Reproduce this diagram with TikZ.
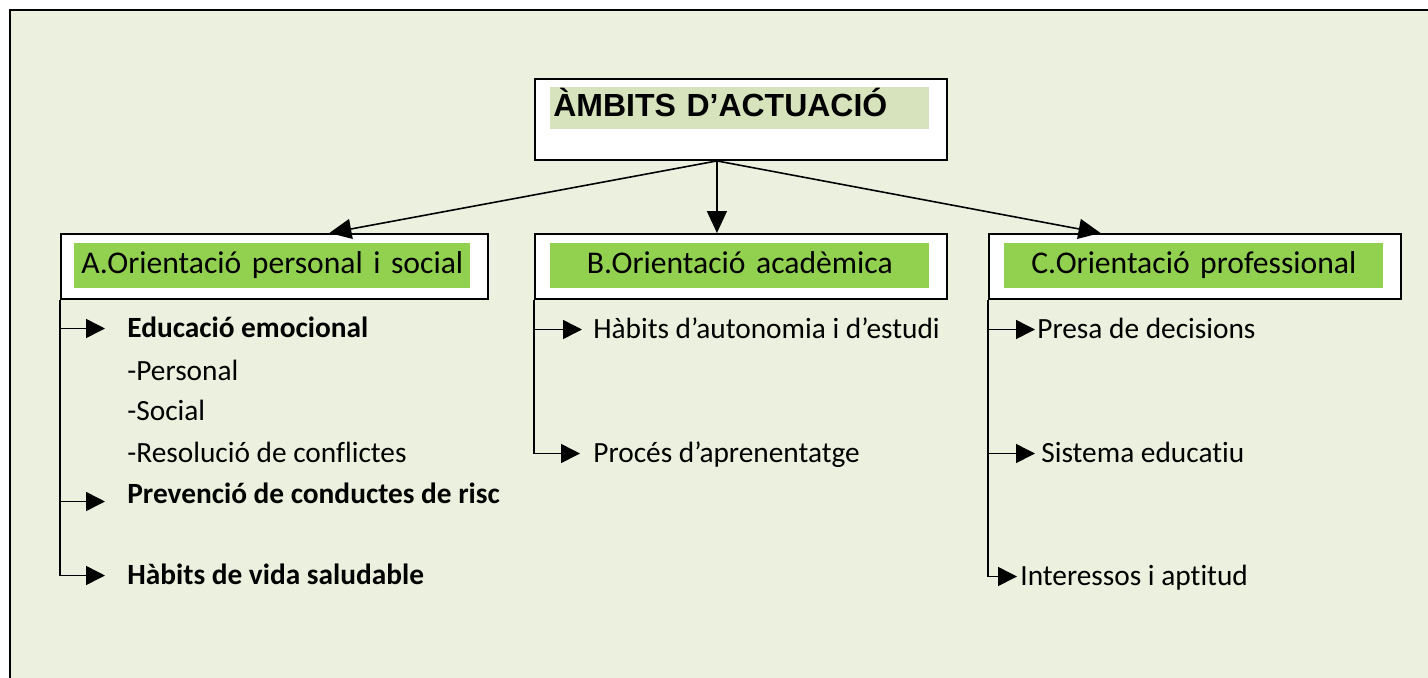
\documentclass[tikz,border=0pt]{standalone}
\usepackage{fontspec}
\setmainfont{Carlito}[Ligatures=NoCommon]
\newfontfamily\arialfont{Liberation Sans}
\usetikzlibrary{arrows.meta,calc}

\definecolor{fons}{HTML}{EBF1DE}
\definecolor{verd}{HTML}{92D050}
\definecolor{oliva}{HTML}{D6E3BC}

\tikzset{
  caixa/.style={draw, line width=1.1pt, fill=white, anchor=north west, minimum height=1.3cm, inner sep=0pt},
  capsa/.style={fill=verd, anchor=north west, inner sep=0pt, text height=0.6cm, text depth=0.3cm, align=center, font=\fontsize{18}{20}\selectfont},
  fletxa/.style={line width=0.9pt, -{Triangle[length=0.44cm,width=0.4cm]}},
  branca/.style={line width=0.9pt, -{Triangle[length=0.38cm,width=0.38cm]}},
  item/.style={anchor=west, inner ysep=0pt, text height=0.34cm, text depth=0pt, font=\fontsize{16.7}{19}\selectfont},
  negreta/.style={font=\bfseries\fontsize{16.7}{19}\selectfont},
}

\begin{document}
\begin{tikzpicture}[x=0.02cm, y=-0.02cm]
\useasboundingbox (0,0) rectangle (1428,677);
% Fons i marc
\fill[fons] (10,10) rectangle (1440,690);
\draw[line width=1.7pt] (1440,10) -- (10,10) -- (10,690);

% Titol
\node[caixa, minimum width=8.24cm, minimum height=1.62cm] (ambits) at (534,78) {};
\node[fill=oliva, anchor=north west, inner xsep=0.06cm, inner ysep=0pt, text width=7.46cm, text height=0.58cm, text depth=0.26cm, align=left, font=\arialfont\bfseries\fontsize{18.2}{21}\selectfont] (titol) at (550,87) {ÀMBITS D’ACTUACIÓ};

% Caixes dels tres ambits
\node[caixa, minimum width=8.54cm] (boxA) at (60,233) {};
\node[caixa, minimum width=8.24cm] (boxB) at (534,233) {};
\node[caixa, minimum width=8.24cm] (boxC) at (988,233) {};
\node[capsa, text width=7.92cm] (orA) at (74,243) {A.Orientació personal i social};
\node[capsa, text width=7.58cm] (orB) at (550,243) {B.Orientació acadèmica};
\node[capsa, text width=7.58cm] (orC) at (1004,243) {C.Orientació professional};

% Fletxes des del titol
\coordinate (arrel) at ($(ambits.south west)!0.442!(ambits.south east)$);
\draw[fletxa] (arrel) -- ($(boxA.north west)!0.628!(boxA.north east)$);
\draw[fletxa] (arrel) -- (arrel |- boxB.north);
\draw[fletxa] (arrel) -- ($(boxC.north west)!0.272!(boxC.north east)$);

% A. Orientacio personal i social
\node[item, negreta, inner xsep=0.44cm] (emo) at (105,328.5) {Educació emocional};
\node[item, inner xsep=0pt] (pers) at (127,371.5) {-Personal};
\node[item, inner xsep=0pt] (soc) at (127,411.5) {-Social};
\node[item, inner xsep=0pt] (res) at (127,453.5) {-Resolució de conflictes};
\node[item, negreta, inner xsep=0.44cm] (prev) at (105,494.5) {Prevenció de conductes de risc};
\node[item, negreta, inner xsep=0.44cm] (vida) at (105,575.5) {Hàbits de vida saludable};
\draw[branca] (boxA.south west) |- (emo.west);
\draw[branca] (boxA.south west) |- ([yshift=-0.14cm]prev.west);
\draw[branca] (boxA.south west) |- (vida.west);

% B. Orientacio academica
\node[item, inner xsep=0.22cm] (autonomia) at (582,329.5) {Hàbits d’autonomia i d’estudi};
\node[item, inner xsep=0.26cm] (proces) at (580,453.5) {Procés d’aprenentatge};
\draw[branca] (boxB.south west) |- (autonomia.west);
\draw[branca] (boxB.south west) |- (proces.west);

% C. Orientacio professional
\node[item, inner xsep=0.04cm] (presa) at (1035,329.5) {Presa de decisions};
\node[item, inner xsep=0.12cm] (sistema) at (1035,453.5) {Sistema educatiu};
\node[item, inner xsep=0.06cm] (interes) at (1017,576.5) {Interessos i aptitud};
\draw[branca] (boxC.south west) |- (presa.west);
\draw[branca] (boxC.south west) |- (sistema.west);
\draw[branca] (boxC.south west) |- (interes.west);
\end{tikzpicture}
\end{document}
